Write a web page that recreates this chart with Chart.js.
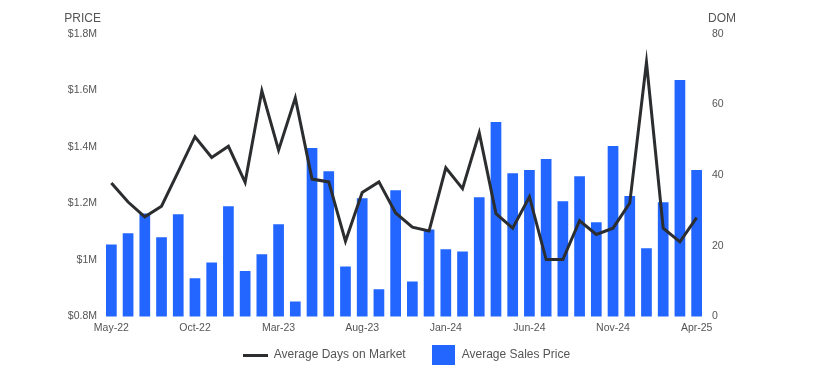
<!DOCTYPE html>
<html lang="en">
<head>
  <meta charset="UTF-8" />
  <title>Average Sales Price vs Days on Market</title>
  <script src="https://cdn.jsdelivr.net/npm/chart.js@4.4.1/dist/chart.umd.min.js"></script>
  <style>
    body { margin: 0; background: #fff; }
    #wrap { width: 814px; height: 379px; }
  </style>
</head>
<body>
  <div id="wrap"><canvas id="chart" width="814" height="379"></canvas></div>
  <script>
    const months = [
      'May-22','Jun-22','Jul-22','Aug-22','Sep-22','Oct-22','Nov-22','Dec-22',
      'Jan-23','Feb-23','Mar-23','Apr-23','May-23','Jun-23','Jul-23','Aug-23',
      'Sep-23','Oct-23','Nov-23','Dec-23','Jan-24','Feb-24','Mar-24','Apr-24',
      'May-24','Jun-24','Jul-24','Aug-24','Sep-24','Oct-24','Nov-24','Dec-24',
      'Jan-25','Feb-25','Mar-25','Apr-25'
    ];
    // average sales price, in $M
    const salesPrice = [
      1.055, 1.094, 1.164, 1.080, 1.162, 0.935, 0.991, 1.190,
      0.961, 1.020, 1.126, 0.853, 1.396, 1.314, 0.977, 1.218,
      0.896, 1.247, 0.924, 1.108, 1.038, 1.030, 1.222, 1.488,
      1.307, 1.318, 1.357, 1.208, 1.296, 1.133, 1.403, 1.226,
      1.041, 1.204, 1.637, 1.318
    ];
    // average days on market
    const daysOnMarket = [
      37.8, 32.4, 28.2, 31.2, 41.0, 50.9, 45.0, 48.2,
      38.0, 63.9, 47.1, 61.9, 38.9, 38.1, 21.3, 35.1,
      38.1, 29.3, 25.3, 24.2, 42.1, 36.2, 52.0, 29.1,
      25.0, 33.9, 16.1, 16.1, 27.1, 23.2, 25.0, 32.1,
      72.0, 25.0, 21.1, 28.0
    ];
    const priceTicks = [0.8, 1.0, 1.2, 1.4, 1.6, 1.8];
    const domTicks = [0, 20, 40, 60, 80];

    const textColor = '#555';
    const lineColor = '#2b2d2f';
    const barColor = '#2266ff';
    const fontFamily = '"Liberation Sans", Arial, sans-serif';

    // little swatches for the legend (a thick line and a tall box)
    function swatch(w, h, color) {
      const c = document.createElement('canvas');
      c.width = w;
      c.height = h;
      const g = c.getContext('2d');
      g.fillStyle = color;
      g.fillRect(0, 0, w, h);
      return c;
    }
    const lineSwatch = swatch(25, 3, lineColor);
    const barSwatch = swatch(23, 20, barColor);

    // axis titles drawn above each y axis
    const axisTitles = {
      id: 'axisTitles',
      afterLayout(chart) {
        // pull the legend row up, closer to the month labels
        chart.legend.top -= 16;
        chart.legend.bottom -= 16;
      },
      afterDraw(chart) {
        const ctx = chart.ctx;
        ctx.save();
        ctx.font = '12px ' + fontFamily;
        ctx.fillStyle = textColor;
        ctx.textBaseline = 'middle';
        ctx.textAlign = 'right';
        ctx.fillText('PRICE', 101, 19);
        ctx.textAlign = 'left';
        ctx.fillText('DOM', 708, 19);
        ctx.restore();
      }
    };

    new Chart(document.getElementById('chart'), {
      data: {
        labels: months,
        datasets: [
          {
            type: 'line',
            label: 'Average Days on Market',
            data: daysOnMarket,
            yAxisID: 'dom',
            borderColor: lineColor,
            backgroundColor: lineColor,
            borderWidth: 3,
            pointRadius: 0,
            pointStyle: lineSwatch,
            tension: 0,
            order: 0
          },
          {
            type: 'bar',
            label: 'Average Sales Price',
            data: salesPrice,
            yAxisID: 'price',
            backgroundColor: barColor,
            borderWidth: 0,
            pointStyle: barSwatch,
            categoryPercentage: 1,
            barPercentage: 0.64,
            order: 1
          }
        ]
      },
      options: {
        responsive: false,
        animation: false,
        layout: { padding: { top: 34, bottom: -8 } },
        plugins: {
          legend: {
            position: 'bottom',
            labels: {
              usePointStyle: true,
              pointStyleWidth: 24,
              padding: 26,
              color: textColor,
              font: { family: fontFamily, size: 12 }
            }
          },
          tooltip: { enabled: false }
        },
        scales: {
          x: {
            grid: { display: false, drawTicks: false },
            border: { display: false },
            ticks: {
              autoSkip: false,
              maxRotation: 0,
              padding: 5,
              color: textColor,
              font: { family: fontFamily, size: 10.5 },
              callback: (v, i) => (i % 5 === 0 ? months[i] : '')
            }
          },
          price: {
            position: 'left',
            min: 0.8,
            max: 1.8,
            grid: { display: false, drawTicks: false },
            border: { display: false },
            afterBuildTicks: axis => { axis.ticks = priceTicks.map(v => ({ value: v })); },
            afterFit: axis => { axis.width = 103; },
            ticks: {
              padding: 6,
              color: textColor,
              font: { family: fontFamily, size: 10.5 },
              callback: v => '$' + (Math.round(v * 10) / 10) + 'M'
            }
          },
          dom: {
            position: 'right',
            min: 0,
            max: 80,
            grid: { display: false, drawTicks: false },
            border: { display: false },
            afterBuildTicks: axis => { axis.ticks = domTicks.map(v => ({ value: v })); },
            afterFit: axis => { axis.width = 109; },
            ticks: {
              padding: 7,
              color: textColor,
              font: { family: fontFamily, size: 10.5 }
            }
          }
        }
      },
      plugins: [axisTitles]
    });
  </script>
</body>
</html>
